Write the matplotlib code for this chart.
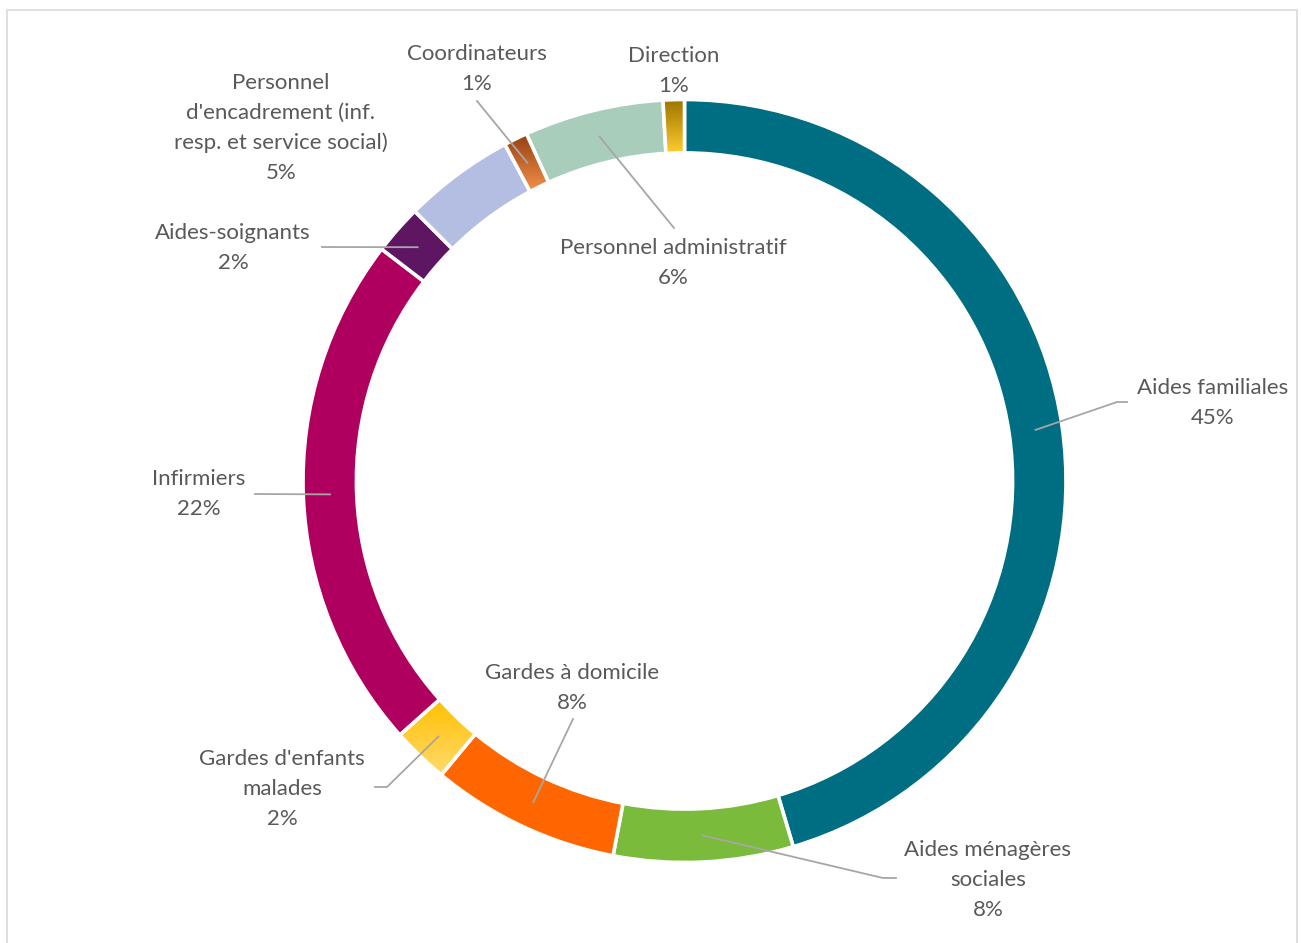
import numpy as np
import matplotlib.pyplot as plt
from matplotlib.colors import LinearSegmentedColormap

W, H = 1301, 943
CX, CY, R = 684.5, 481.0, 381.5   # ring centre and outer radius, pixels
RING = 0.14                       # ring width as a fraction of the radius

categories = ["Aides familiales", "Aides ménagères\nsociales", "Gardes à domicile",
              "Gardes d'enfants\nmalades", "Infirmiers", "Aides-soignants",
              "Personnel\nd'encadrement (inf.\nresp. et service social)",
              "Coordinateurs", "Personnel administratif", "Direction"]
values = [45.4, 7.6, 8.0, 2.4, 22.0, 2.1, 4.7, 1.0, 5.9, 0.9]
colors = ["#006E82", "#7BBB3B", "#FF6600", None, "#B0005F", "#5E1562",
          "#B4BEE2", None, "#A8CDBB", None]
# gradient fills (top colour, bottom colour)
gradients = {3: ("#FFC000", "#FFDA6E"), 7: ("#983F12", "#F3924A"), 9: ("#9C7400", "#FFCB2E")}

# label block centre and leader path (pixels), None = no leader
label_pos = [(1213, 403), (988, 880), (572, 688), (282, 789), (199, 494), (233, 248),
             (281, 128), (477, 69), (673, 263), (674, 71)]
leaders = [[(1127, 402), (1117, 402)], [(896, 878), (883, 878)], [(573, 719)],
           [(375, 787), (387, 787)], [(255, 494)], [(322, 247)], None,
           [(477, 101)], [(674, 228)], None]


def px(x, y):
    return ((x - CX) / R, (CY - y) / R)


fig = plt.figure(figsize=(W / 100, H / 100), dpi=100)
ax = fig.add_axes([0, 0, 1, 1])

wedges, _ = ax.pie(values, startangle=90, counterclock=False, radius=1,
                   colors=[c if c else "none" for c in colors],
                   wedgeprops=dict(width=RING, edgecolor="white", linewidth=2.6))

for i, (top, bot) in gradients.items():
    w = wedges[i]
    w.set_facecolor("none")
    w.set_zorder(3)
    bb = w.get_path().get_extents()
    cmap = LinearSegmentedColormap.from_list("g%d" % i, [bot, top])
    img = ax.imshow(np.linspace(0, 1, 64).reshape(-1, 1), cmap=cmap, origin="lower",
                    extent=(bb.x0, bb.x1, bb.y0, bb.y1), aspect="auto", zorder=2)
    img.set_clip_path(w)

total = sum(values)
start = 90.0
mid_r = 1 - RING / 2
for i, v in enumerate(values):
    ang = np.deg2rad(start - v / total * 360 / 2)
    start -= v / total * 360
    tx, ty = px(*label_pos[i])
    ax.text(tx, ty, "%s\n%d%%" % (categories[i], round(v / total * 100)),
            ha="center", va="center", fontsize=16, color="#595959",
            family=["Lato", "DejaVu Sans"], linespacing=1.6)
    if leaders[i]:
        pts = [px(*p) for p in leaders[i]] + [(mid_r * np.cos(ang), mid_r * np.sin(ang))]
        xs, ys = zip(*pts)
        ax.plot(xs, ys, color="#A6A6A6", lw=1.3, zorder=4)

ax.set_xlim(-CX / R, (W - CX) / R)
ax.set_ylim((CY - H) / R, CY / R)
ax.set_aspect("auto")
ax.axis("off")

# light frame around the chart area
fig.patches.append(plt.Rectangle((7 / W, -0.01), (1290 / W), 1 - 9.5 / H + 0.01,
                                 transform=fig.transFigure, fill=False,
                                 edgecolor="#D9D9D9", lw=1.2))

fig.savefig("out.png", dpi=100, facecolor="white")
